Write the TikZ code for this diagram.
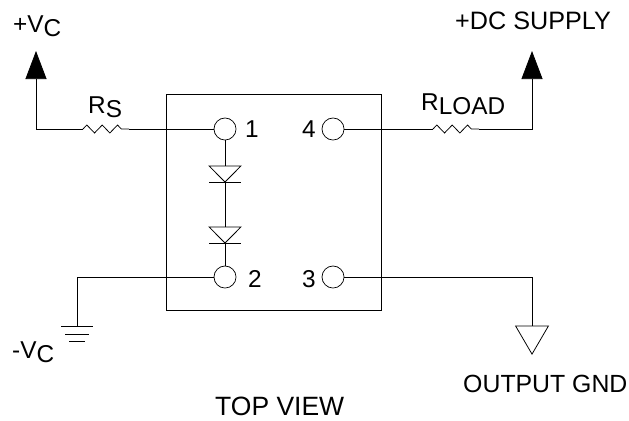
\documentclass[tikz,border=0pt]{standalone}
\usepackage{fontspec}
\setmainfont{Liberation Sans}
\usetikzlibrary{decorations.pathmorphing, arrows.meta}
\tikzstyle{padnode} = [circle, draw, fill=white, line width=0.6pt, inner sep=0pt, minimum size=18.8pt]
\tikzstyle{label} = [anchor=base west, inner sep=0pt, font=\fontsize{20.8pt}{24pt}\selectfont]
\tikzstyle{line} = [draw, line width=0.65pt]
\tikzstyle{supply} = [draw, line width=0.65pt, -{Triangle[length=24pt,width=18pt]}]
\tikzstyle{resistor} = [decorate, decoration={zigzag, segment length=13.1pt, amplitude=3.4pt}]
\newcommand{\lowtext}[1]{\raisebox{-4pt}{#1}}

\begin{document}
\begin{tikzpicture}[x=0.03cm, y=-0.03cm]
	\useasboundingbox (0,0) rectangle (629,420);
	% Package outline
	\draw [line] (166,94) rectangle (381,310);
	% Place nodes
	\coordinate (vcTip) at (36,51);
	\coordinate (dcTip) at (532,51);
	\coordinate (rsLeft) at (83,129);
	\coordinate (rsRight) at (129,129);
	\coordinate (rloadLeft) at (433,129);
	\coordinate (rloadRight) at (479,129);
	\coordinate (diodeA) at (225,166);
	\coordinate (diodeAk) at (225,182);
	\coordinate (diodeB) at (225,227);
	\coordinate (diodeBk) at (225,243);
	\coordinate (gndTop) at (77,326);
	\coordinate (outTop) at (532,326);
	\node [padnode] (padOne) at (225,129) {};
	\node [padnode] (padFour) at (333,129) {};
	\node [padnode] (padTwo) at (225,277) {};
	\node [padnode] (padThree) at (333,277) {};
	%
	\path [supply] (rsLeft) -| (vcTip);
	\path [supply] (rloadRight) -| (dcTip);
	\path [line] (rsLeft) [resistor] -- (rsRight);
	\path [line] (rloadLeft) [resistor] -- (rloadRight);
	\path [line] (rsRight) -- (padOne);
	\path [line] (padFour) -- (rloadLeft);
	\path [line] (padOne) -- (diodeA);
	\path [line] (diodeAk) -- (diodeB);
	\path [line] (diodeBk) -- (padTwo);
	\path [line] (padTwo) -| (gndTop);
	\path [line] (padThree) -| (outTop);
	% Diodes
	\foreach \top/\tip in {diodeA/diodeAk, diodeB/diodeBk} {
		\draw [line] ([xshift=-13.6pt]\top) -- ([xshift=13.6pt]\top) -- (\tip) -- cycle;
		\draw [line] ([xshift=-13.6pt]\tip) -- ([xshift=13.6pt]\tip);
	}
	% Grounds
	\draw [line] ([xshift=-13.6pt]gndTop) -- ([xshift=13.6pt]gndTop);
	\draw [line] ([xshift=-10.2pt,yshift=-6.8pt]gndTop) -- ([xshift=10.2pt,yshift=-6.8pt]gndTop);
	\draw [line] ([xshift=-6.8pt,yshift=-13pt]gndTop) -- ([xshift=6.8pt,yshift=-13pt]gndTop);
	\draw [line] ([xshift=-14pt]outTop) -- ([xshift=14pt]outTop) -- ([yshift=-24pt]outTop) -- cycle;
	% Labels
	\node [label] (vcPlus) at (13,32) {+V\lowtext{C}};
	\node [label] (vcMinus) at (12,358) {-V\lowtext{C}};
	\node [label] (rsText) at (88,113) {R\lowtext{S}};
	\node [label] (rloadText) at (421,110) {R\lowtext{LOAD}};
	\node [label, font=\fontsize{21.5pt}{24pt}\selectfont] (dcText) at (455,29) {+DC SUPPLY};
	\node [label, font=\fontsize{21.2pt}{24pt}\selectfont] (gndText) at (463,392) {OUTPUT GND};
	\node [label, font=\fontsize{22.6pt}{24pt}\selectfont] (viewText) at (215,415) {TOP VIEW};
	\node [label] (numOne) at (245,137) {1};
	\node [label] (numFour) at (302,137) {4};
	\node [label] (numTwo) at (248,287) {2};
	\node [label] (numThree) at (302,287) {3};
\end{tikzpicture}
\end{document}
